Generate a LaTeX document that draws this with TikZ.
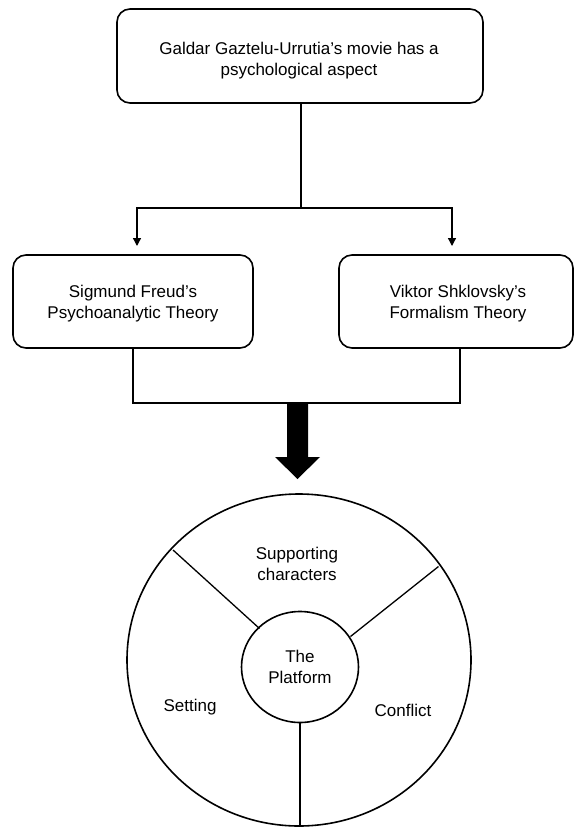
\documentclass[tikz,border=0pt]{standalone}
\usepackage{fontspec}
\setmainfont{Liberation Sans}
\usetikzlibrary{shapes.geometric,arrows.meta}
\tikzset{
  rbox/.style={draw, line width=1.6pt, rounded corners=13pt, inner sep=0pt},
  ring/.style={draw, ellipse, line width=1.6pt, inner sep=0pt, align=center,
    font=\fontsize{17}{20.5}\selectfont},
  conn/.style={line width=1.3pt},
  arr/.style={line width=1.3pt, -{Triangle[width=8pt,length=8pt]}},
  lbl/.style={align=center, inner sep=0pt, font=\fontsize{17}{21}\selectfont}
}
\begin{document}
\begin{tikzpicture}[x=1pt,y=-1pt]
\useasboundingbox (0,0) rectangle (574,827);
\fill[white] (0,0) rectangle (574,827);
% boxes
\node[rbox, minimum width=366pt, minimum height=94pt] (top) at (300,56) {};
\node[lbl] (toptext) at (299,60.5) {Galdar Gaztelu-Urrutia’s movie has a\\psychological aspect};
\node[rbox, minimum width=240pt, minimum height=93pt] (left) at (133,301.5) {};
\node[lbl] (lefttext) at (133,304) {Sigmund Freud’s\\Psychoanalytic Theory};
\node[rbox, minimum width=234pt, minimum height=93pt] (right) at (456,301.5) {};
\node[lbl] (righttext) at (458,304) {Viktor Shklovsky’s\\Formalism Theory};
% top connectors
\coordinate (split) at (301,208);
\coordinate (la) at (137,246);
\coordinate (ra) at (452,246);
\draw[conn] (split |- top.south) -- (split);
\draw[arr] (split) -| (la);
\draw[arr] (split) -| (ra);
% bottom connectors
\coordinate (lb) at (133,403);
\coordinate (rb) at (460,403);
\draw[conn] (left.south) -- (lb) -- (rb) -- (rb |- right.south);
% big black arrow
\fill[black] (287,403) -- (308,403) -- (308,457) -- (320,457) -- (297.5,479)
  -- (275,457) -- (287,457) -- cycle;
% circles
\node[ring, minimum width=344pt, minimum height=332pt] (outer) at (299,660) {};
\node[ring, minimum width=117pt, minimum height=111pt] (inner) at (300,667) {The\\Platform};
% spokes
\coordinate (s1o) at (173,550);
\coordinate (s1i) at (259.5,628.5);
\coordinate (s2o) at (438.5,566.5);
\coordinate (s2i) at (350.5,636.5);
\draw[conn] (s1o) -- (s1i);
\draw[conn] (s2o) -- (s2i);
\draw[conn] (inner.south) -- (inner.south |- outer.south);
% labels
\node[lbl] (sup) at (297,564) {Supporting\\characters};
\node[lbl] (set) at (190,707) {Setting};
\node[lbl] (con) at (403,710) {Conflict};
\end{tikzpicture}
\end{document}
